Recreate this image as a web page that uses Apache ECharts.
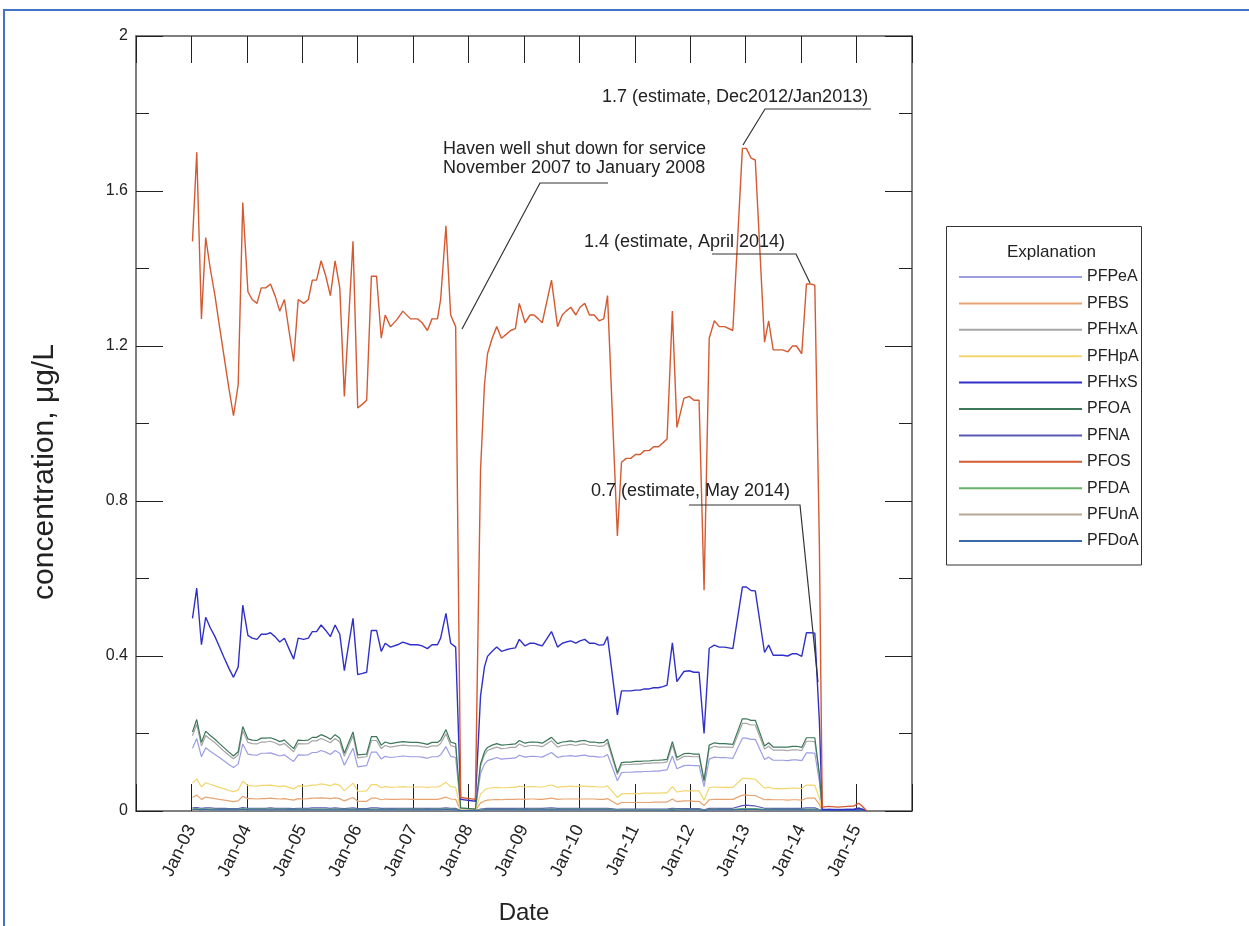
<!DOCTYPE html>
<html>
<head>
<meta charset="utf-8">
<script src="https://cdn.jsdelivr.net/npm/echarts@6/dist/echarts.min.js"></script>
<style>
html,body{margin:0;padding:0;background:#fff;overflow:hidden;}
#chart{width:1249px;height:926px;}
</style>
</head>
<body>
<div id="chart"></div>
<script>
// ---- sample dates ----
const dates = [
'2003-01-08','2003-02-05','2003-03-08','2003-04-05','2003-05-05','2003-06-05','2003-07-05','2003-08-05','2003-09-05','2003-10-05',
'2003-11-05','2003-12-05','2004-01-08','2004-02-05','2004-03-08','2004-04-05','2004-05-05','2004-06-05','2004-07-05','2004-08-05',
'2004-09-05','2004-10-05','2004-11-05','2004-12-05','2005-01-10','2005-02-10','2005-03-08','2005-04-05','2005-05-05','2005-06-05',
'2005-07-05','2005-08-05','2005-09-05','2005-10-05','2005-12-01','2006-01-01','2006-02-01','2006-03-01','2006-04-01','2006-05-05',
'2006-06-05','2006-07-01','2006-08-05','2006-09-20','2006-10-25','2006-12-15','2007-01-30','2007-03-01','2007-04-05','2007-05-05',
'2007-06-10','2007-07-01','2007-08-05','2007-09-05','2007-10-08','2007-11-10','2008-02-15','2008-03-20','2008-04-15','2008-05-05',
'2008-06-05','2008-07-05','2008-08-05','2008-09-05','2008-10-05','2008-11-05','2008-12-01','2009-01-08','2009-02-10','2009-03-08',
'2009-04-05','2009-05-01','2009-07-01','2009-08-10','2009-09-10','2009-10-05','2009-11-05','2009-12-08','2010-01-05','2010-02-05',
'2010-03-08','2010-04-08','2010-05-10','2010-06-10','2010-07-05','2010-09-08','2010-10-05','2010-11-05','2010-12-05','2011-01-05',
'2011-02-05','2011-03-05','2011-04-05','2011-05-05','2011-06-05','2011-07-05','2011-08-01','2011-09-05','2011-10-05','2011-11-20',
'2011-12-25','2012-01-25','2012-02-28','2012-04-01','2012-05-05','2012-06-08','2012-07-10','2012-08-15','2012-10-08','2012-12-10',
'2013-01-05','2013-02-05','2013-03-05','2013-05-05','2013-06-01','2013-07-01','2013-08-01','2013-09-01','2013-10-05','2013-11-05',
'2013-12-01','2014-01-05','2014-02-05','2014-03-05','2014-04-01','2014-05-01','2014-05-20','2014-07-01','2014-09-01','2014-11-01',
'2014-12-15','2015-01-15','2015-02-01','2015-03-10'
];

// ---- concentrations, ug/L ----
const PFPeA = [
0.162,0.187,0.140,0.163,0.154,0.146,0.138,0.129,0.120,0.112,
0.121,0.173,0.147,0.145,0.144,0.149,0.149,0.150,0.146,0.142,
0.145,0.136,0.128,0.145,0.144,0.145,0.151,0.151,0.156,0.152,
0.146,0.156,0.149,0.118,0.162,0.114,0.116,0.117,0.152,0.152,
0.134,0.141,0.138,0.140,0.142,0.140,0.140,0.139,0.136,0.140,
0.140,0.145,0.166,0.141,0.138,0.006,0.004,0.097,0.121,0.130,
0.134,0.138,0.134,0.135,0.136,0.137,0.144,0.139,0.141,0.141,
0.140,0.139,0.151,0.138,0.141,0.142,0.143,0.141,0.143,0.144,
0.141,0.141,0.139,0.140,0.146,0.078,0.099,0.100,0.100,0.101,
0.101,0.102,0.102,0.103,0.103,0.105,0.106,0.142,0.109,0.117,
0.118,0.117,0.117,0.063,0.134,0.139,0.138,0.138,0.136,0.188,
0.188,0.185,0.185,0.133,0.139,0.131,0.131,0.131,0.130,0.132,
0.132,0.130,0.150,0.150,0.149,0.076,0.002,0.002,0.002,0.002,
0.003,0.004,0.003,0
];
const PFBS = [
0.035,0.041,0.030,0.036,0.034,0.032,0.030,0.028,0.026,0.024,
0.026,0.038,0.032,0.032,0.031,0.032,0.032,0.033,0.032,0.031,
0.032,0.030,0.028,0.032,0.031,0.032,0.033,0.033,0.034,0.033,
0.032,0.034,0.032,0.026,0.035,0.025,0.025,0.025,0.033,0.033,
0.029,0.031,0.030,0.030,0.031,0.030,0.030,0.030,0.030,0.030,
0.030,0.032,0.036,0.031,0.030,0.002,0.001,0.021,0.026,0.028,
0.029,0.030,0.029,0.030,0.030,0.030,0.031,0.030,0.031,0.031,
0.030,0.030,0.033,0.030,0.031,0.031,0.031,0.031,0.031,0.031,
0.031,0.031,0.030,0.030,0.032,0.017,0.022,0.022,0.022,0.022,
0.022,0.022,0.022,0.023,0.023,0.023,0.023,0.031,0.024,0.026,
0.026,0.025,0.025,0.014,0.029,0.030,0.030,0.030,0.030,0.041,
0.041,0.040,0.040,0.029,0.030,0.029,0.029,0.029,0.028,0.029,
0.029,0.028,0.033,0.033,0.033,0.017,0.001,0.002,0.002,0.002,
0.002,0.004,0.003,0
];
const PFHxA = [
0.194,0.224,0.168,0.195,0.185,0.176,0.165,0.154,0.144,0.135,
0.145,0.207,0.177,0.174,0.173,0.178,0.178,0.180,0.176,0.170,
0.174,0.164,0.153,0.174,0.173,0.174,0.181,0.181,0.187,0.182,
0.176,0.187,0.178,0.141,0.194,0.137,0.139,0.140,0.182,0.182,
0.161,0.169,0.165,0.168,0.170,0.168,0.168,0.166,0.164,0.168,
0.168,0.174,0.199,0.169,0.165,0.007,0.004,0.116,0.145,0.156,
0.161,0.165,0.161,0.162,0.164,0.164,0.173,0.166,0.169,0.169,
0.168,0.166,0.181,0.165,0.169,0.170,0.172,0.169,0.172,0.173,
0.169,0.169,0.167,0.168,0.176,0.094,0.119,0.120,0.120,0.121,
0.121,0.123,0.123,0.124,0.124,0.125,0.127,0.170,0.131,0.141,
0.141,0.140,0.140,0.075,0.161,0.167,0.165,0.165,0.164,0.226,
0.226,0.222,0.222,0.160,0.167,0.157,0.157,0.157,0.156,0.158,
0.158,0.156,0.180,0.180,0.179,0.091,0.002,0.002,0.002,0.002,
0.002,0.003,0.002,0
];
const PFHpA = [
0.072,0.083,0.062,0.073,0.069,0.065,0.061,0.057,0.053,0.050,
0.054,0.077,0.066,0.065,0.064,0.066,0.066,0.067,0.065,0.063,
0.065,0.061,0.057,0.065,0.064,0.065,0.067,0.067,0.070,0.068,
0.065,0.070,0.066,0.052,0.072,0.051,0.051,0.052,0.068,0.068,
0.060,0.063,0.061,0.062,0.063,0.062,0.062,0.062,0.061,0.062,
0.062,0.065,0.074,0.063,0.061,0.003,0.002,0.043,0.054,0.058,
0.060,0.061,0.060,0.060,0.061,0.061,0.064,0.062,0.063,0.063,
0.062,0.062,0.067,0.061,0.063,0.063,0.064,0.063,0.064,0.064,
0.063,0.063,0.062,0.062,0.065,0.035,0.044,0.045,0.045,0.045,
0.045,0.046,0.046,0.046,0.046,0.047,0.047,0.063,0.049,0.052,
0.052,0.052,0.052,0.028,0.060,0.062,0.061,0.061,0.061,0.084,
0.084,0.083,0.082,0.059,0.062,0.058,0.058,0.058,0.058,0.059,
0.059,0.058,0.067,0.067,0.066,0.034,0.001,0.001,0.001,0.001,
0.001,0.002,0.001,0
];
const PFHxS = [
0.497,0.575,0.429,0.500,0.473,0.450,0.423,0.395,0.368,0.345,
0.372,0.531,0.453,0.446,0.443,0.456,0.456,0.460,0.450,0.436,
0.446,0.419,0.392,0.446,0.443,0.446,0.463,0.463,0.480,0.466,
0.450,0.480,0.456,0.362,0.497,0.352,0.355,0.358,0.466,0.466,
0.412,0.433,0.423,0.429,0.436,0.429,0.429,0.426,0.419,0.429,
0.429,0.446,0.510,0.433,0.423,0.030,0.025,0.297,0.372,0.399,
0.412,0.423,0.412,0.416,0.419,0.421,0.443,0.426,0.433,0.433,
0.429,0.426,0.463,0.423,0.433,0.436,0.439,0.433,0.439,0.443,
0.433,0.433,0.428,0.429,0.450,0.248,0.310,0.310,0.310,0.312,
0.312,0.315,0.315,0.318,0.318,0.321,0.325,0.434,0.334,0.360,
0.362,0.358,0.358,0.200,0.420,0.428,0.423,0.423,0.419,0.578,
0.578,0.569,0.568,0.409,0.428,0.402,0.402,0.402,0.400,0.406,
0.406,0.399,0.460,0.460,0.459,0.233,0.004,0.004,0.003,0.004,
0.004,0.006,0.005,0
];
const PFOA = [
0.204,0.236,0.177,0.206,0.195,0.185,0.174,0.163,0.152,0.142,
0.153,0.218,0.186,0.183,0.182,0.188,0.188,0.189,0.185,0.179,
0.183,0.172,0.161,0.183,0.182,0.183,0.190,0.190,0.197,0.192,
0.185,0.197,0.188,0.149,0.204,0.145,0.146,0.147,0.192,0.192,
0.170,0.178,0.174,0.177,0.179,0.177,0.177,0.175,0.172,0.177,
0.177,0.183,0.210,0.178,0.174,0.008,0.005,0.122,0.153,0.164,
0.170,0.174,0.170,0.171,0.172,0.173,0.182,0.175,0.178,0.178,
0.177,0.175,0.190,0.174,0.178,0.179,0.181,0.178,0.181,0.182,
0.178,0.178,0.176,0.177,0.185,0.099,0.125,0.126,0.126,0.128,
0.128,0.129,0.129,0.131,0.131,0.132,0.133,0.179,0.138,0.148,
0.149,0.147,0.147,0.079,0.170,0.176,0.174,0.174,0.172,0.238,
0.238,0.234,0.234,0.168,0.176,0.165,0.165,0.165,0.165,0.167,
0.167,0.164,0.189,0.189,0.189,0.096,0.002,0.002,0.002,0.002,
0.002,0.003,0.002,0
];
const PFNA = [
0.008,0.009,0.007,0.008,0.008,0.007,0.007,0.007,0.006,0.006,
0.006,0.009,0.007,0.007,0.007,0.007,0.007,0.008,0.007,0.007,
0.007,0.007,0.006,0.007,0.007,0.007,0.008,0.008,0.008,0.008,
0.007,0.008,0.007,0.006,0.008,0.006,0.006,0.006,0.008,0.008,
0.007,0.007,0.007,0.007,0.007,0.007,0.007,0.007,0.007,0.007,
0.007,0.007,0.008,0.007,0.007,0.001,0.001,0.005,0.006,0.007,
0.007,0.007,0.007,0.007,0.007,0.007,0.007,0.007,0.007,0.007,
0.007,0.007,0.008,0.007,0.007,0.007,0.007,0.007,0.007,0.007,
0.007,0.007,0.007,0.007,0.007,0.004,0.005,0.005,0.005,0.005,
0.005,0.005,0.005,0.005,0.005,0.005,0.005,0.007,0.006,0.006,
0.006,0.006,0.006,0.003,0.007,0.007,0.007,0.007,0.007,0.014,
0.015,0.014,0.013,0.007,0.007,0.007,0.007,0.007,0.007,0.007,
0.007,0.007,0.008,0.008,0.008,0.004,0.001,0.004,0.004,0.004,
0.005,0.008,0.006,0
];
const PFOS = [
1.47,1.70,1.27,1.48,1.40,1.33,1.25,1.17,1.09,1.02,
1.10,1.57,1.34,1.32,1.31,1.35,1.35,1.36,1.33,1.29,
1.32,1.24,1.16,1.32,1.31,1.32,1.37,1.37,1.42,1.38,
1.33,1.42,1.35,1.07,1.47,1.04,1.05,1.06,1.38,1.38,
1.22,1.28,1.25,1.27,1.29,1.27,1.27,1.26,1.24,1.27,
1.27,1.32,1.51,1.28,1.25,0.035,0.03,0.88,1.10,1.18,
1.22,1.25,1.22,1.23,1.24,1.245,1.31,1.26,1.28,1.28,
1.27,1.26,1.37,1.25,1.28,1.29,1.30,1.28,1.30,1.31,
1.28,1.28,1.265,1.27,1.33,0.71,0.90,0.91,0.91,0.92,
0.92,0.93,0.93,0.94,0.94,0.95,0.96,1.29,0.99,1.065,
1.07,1.06,1.06,0.57,1.22,1.265,1.25,1.25,1.24,1.71,
1.71,1.685,1.68,1.21,1.265,1.19,1.19,1.19,1.185,1.20,
1.20,1.18,1.36,1.36,1.357,0.69,0.01,0.012,0.010,0.012,
0.013,0.020,0.015,0
];
const PFDA = [
0.005,0.006,0.005,0.005,0.005,0.005,0.004,0.004,0.004,0.004,
0.004,0.006,0.005,0.005,0.005,0.005,0.005,0.005,0.005,0.005,
0.005,0.004,0.004,0.005,0.005,0.005,0.005,0.005,0.005,0.005,
0.005,0.005,0.005,0.004,0.005,0.004,0.004,0.004,0.005,0.005,
0.004,0.005,0.004,0.005,0.005,0.005,0.005,0.005,0.004,0.005,
0.005,0.005,0.005,0.005,0.004,0.001,0.001,0.003,0.004,0.004,
0.004,0.004,0.004,0.004,0.004,0.004,0.005,0.004,0.005,0.005,
0.005,0.004,0.005,0.004,0.005,0.005,0.005,0.005,0.005,0.005,
0.005,0.005,0.005,0.005,0.005,0.003,0.003,0.003,0.003,0.003,
0.003,0.003,0.003,0.003,0.003,0.003,0.003,0.005,0.004,0.004,
0.004,0.004,0.004,0.002,0.004,0.005,0.004,0.004,0.004,0.006,
0.006,0.006,0.006,0.004,0.005,0.004,0.004,0.004,0.004,0.004,
0.004,0.004,0.005,0.005,0.005,0.003,0.001,0.002,0.002,0.002,
0.002,0.003,0.002,0
];
const PFUnA = [
0.002,0.003,0.002,0.002,0.002,0.002,0.002,0.002,0.002,0.002,
0.002,0.003,0.002,0.002,0.002,0.002,0.002,0.002,0.002,0.002,
0.002,0.002,0.002,0.002,0.002,0.002,0.002,0.002,0.002,0.002,
0.002,0.002,0.002,0.002,0.002,0.002,0.002,0.002,0.002,0.002,
0.002,0.002,0.002,0.002,0.002,0.002,0.002,0.002,0.002,0.002,
0.002,0.002,0.003,0.002,0.002,0.001,0.001,0.002,0.002,0.002,
0.002,0.002,0.002,0.002,0.002,0.002,0.002,0.002,0.002,0.002,
0.002,0.002,0.002,0.002,0.002,0.002,0.002,0.002,0.002,0.002,
0.002,0.002,0.002,0.002,0.002,0.001,0.001,0.001,0.001,0.001,
0.001,0.001,0.001,0.001,0.001,0.001,0.001,0.002,0.002,0.002,
0.002,0.002,0.002,0.001,0.002,0.002,0.002,0.002,0.002,0.003,
0.003,0.003,0.003,0.002,0.002,0.002,0.002,0.002,0.002,0.002,
0.002,0.002,0.002,0.002,0.002,0.001,0.000,0.001,0.001,0.001,
0.001,0.002,0.001,0
];
const PFDoA = [
0.004,0.004,0.003,0.004,0.003,0.003,0.003,0.003,0.003,0.003,
0.003,0.004,0.003,0.003,0.003,0.003,0.003,0.003,0.003,0.003,
0.003,0.003,0.003,0.003,0.003,0.003,0.003,0.003,0.003,0.003,
0.003,0.003,0.003,0.003,0.003,0.003,0.003,0.003,0.003,0.003,
0.003,0.003,0.003,0.003,0.003,0.003,0.003,0.003,0.003,0.003,
0.003,0.003,0.004,0.003,0.003,0.001,0.001,0.002,0.003,0.003,
0.003,0.003,0.003,0.003,0.003,0.003,0.003,0.003,0.003,0.003,
0.003,0.003,0.003,0.003,0.003,0.003,0.003,0.003,0.003,0.003,
0.003,0.003,0.003,0.003,0.003,0.002,0.002,0.002,0.002,0.002,
0.002,0.002,0.002,0.002,0.002,0.002,0.002,0.003,0.002,0.003,
0.003,0.003,0.003,0.001,0.003,0.003,0.003,0.003,0.003,0.004,
0.004,0.004,0.004,0.003,0.003,0.003,0.003,0.003,0.003,0.003,
0.003,0.003,0.003,0.003,0.003,0.002,0.001,0.001,0.001,0.001,
0.001,0.002,0.001,0
];

const seriesNames = ['PFPeA','PFBS','PFHxA','PFHpA','PFHxS','PFOA','PFNA','PFOS','PFDA','PFUnA','PFDoA'];
const seriesValues = [PFPeA,PFBS,PFHxA,PFHpA,PFHxS,PFOA,PFNA,PFOS,PFDA,PFUnA,PFDoA];
const seriesColors = ['#9c9ee2','#e6a472','#a6a6a6','#f2d66e','#3030c8','#3b7758','#5858b4','#d45a32','#69b069','#b8a896','#3a6aaa'];
const yTicks = [0,0.4,0.8,1.2,1.6,2];
const yearLabels = ['Jan-03','Jan-04','Jan-05','Jan-06','Jan-07','Jan-08','Jan-09','Jan-10','Jan-11','Jan-12','Jan-13','Jan-14','Jan-15'];

function toYear(s){
  const d = Date.parse(s + 'T00:00:00Z');
  const y = parseInt(s.slice(0,4),10);
  const a = Date.UTC(y,0,1), b = Date.UTC(y+1,0,1);
  return y + (d - a) / (b - a);
}
const xs = dates.map(toYear);

const FONT = "'Liberation Sans',Arial,sans-serif";

const chart = echarts.init(document.getElementById('chart'), null, {renderer:'canvas'});

const axisLineStyle = {color:'#555', width:1.5};
const tickStyle = {color:'#222', width:1};

const series = seriesNames.map((n,i)=>({
  name:n, type:'line', xAxisIndex:0, yAxisIndex:0,
  data: xs.map((x,j)=>[x, seriesValues[i][j]]),
  showSymbol:false, symbol:'none',
  lineStyle:{color:seriesColors[i], width: (n==='PFHxS'||n==='PFOS')?1.4:1.2},
  itemStyle:{color:seriesColors[i]},
  z: (n==='PFOS')?5:(n==='PFHxS'?4:3),
  emphasis:{disabled:true}
}));

const leader = (pts)=>({type:'polyline', shape:{points:pts}, style:{stroke:'#333', lineWidth:1.2, fill:null}, z:20});
const label = (txt,x,y)=>({type:'text', x:x, y:y, style:{text:txt, fill:'#222', font:'18px '+FONT, align:'left', verticalAlign:'middle'}, z:20});

const option = {
  animation:false,
  textStyle:{fontFamily:FONT},
  grid:{left:136, top:36, right:337, bottom:115, containLabel:false, outerBoundsMode:'none'},
  xAxis:[{
    type:'value', min:2002, max:2016, interval:1, position:'bottom',
    axisLine:{onZero:false, lineStyle:axisLineStyle},
    axisTick:{inside:true, length:27, lineStyle:tickStyle},
    axisLabel:{rotate:64, fontSize:18, color:'#222', fontFamily:FONT, margin:15,
      formatter:(v)=>{const k=Math.round(v)-2003; return (k>=0 && k<yearLabels.length)?yearLabels[k]:'';}},
    splitLine:{show:false},
    name:'Date', nameLocation:'middle', nameGap:90,
    nameTextStyle:{fontSize:24, color:'#222', fontFamily:FONT}
  },{
    type:'value', min:2002, max:2016, interval:1, position:'top',
    axisLine:{onZero:false, lineStyle:axisLineStyle},
    axisTick:{inside:true, length:27, lineStyle:tickStyle},
    axisLabel:{show:false}, splitLine:{show:false}
  }],
  yAxis:[{
    type:'value', min:0, max:2, interval:0.4, position:'left',
    axisLine:{show:true, onZero:false, lineStyle:axisLineStyle},
    axisTick:{show:true, inside:true, length:27, lineStyle:tickStyle},
    minorTick:{show:true, splitNumber:2, length:13, lineStyle:tickStyle},
    axisLabel:{fontSize:16, color:'#222', fontFamily:FONT, margin:8,
      formatter:(v)=>{const t=yTicks.find(q=>Math.abs(q-v)<1e-6); return t===undefined?'':String(t);}},
    splitLine:{show:false}, minorSplitLine:{show:false}
  },{
    type:'value', min:0, max:2, interval:0.4, position:'right',
    axisLine:{show:true, onZero:false, lineStyle:axisLineStyle},
    axisTick:{show:true, inside:true, length:27, lineStyle:tickStyle},
    minorTick:{show:true, splitNumber:2, length:13, lineStyle:tickStyle},
    axisLabel:{show:false}, splitLine:{show:false}, minorSplitLine:{show:false}
  }],
  legend:{
    orient:'vertical', left:959, top:267, padding:0,
    itemWidth:123, itemHeight:2, itemGap:6.4, icon:'rect',
    selectedMode:false,
    textStyle:{fontSize:16, color:'#222', lineHeight:20, fontFamily:FONT},
    data:seriesNames
  },
  series:series,
  graphic:[
    // page frame
    {type:'polyline', shape:{points:[[4,926],[4,10],[1249,10]]}, style:{stroke:'#4472c4', lineWidth:2, fill:null}, silent:true},
    // legend box
    {type:'rect', shape:{x:946.5, y:226.5, width:195, height:338.5}, style:{stroke:'#333', lineWidth:1, fill:null}, silent:true},
    {type:'text', x:1007, y:252, style:{text:'Explanation', fill:'#222', font:'17px '+FONT, align:'left', verticalAlign:'middle'}},
    // y-axis title
    {type:'text', x:45, y:472, rotation:Math.PI/2, style:{text:'concentration, \u03bcg/L', fill:'#222', font:'30px '+FONT, align:'center', verticalAlign:'middle'}},
    // annotations
    label('Haven well shut down for service', 443, 149),
    label('November 2007 to January 2008', 443, 168),
    leader([[462,329],[540,183],[608,183]]),
    label('1.7 (estimate, Dec2012/Jan2013)', 602, 97),
    leader([[743,145],[765,109],[871,109]]),
    label('1.4 (estimate, April 2014)', 584, 242),
    leader([[712,254],[796,254],[810,283]]),
    label('0.7 (estimate, May 2014)', 591, 491),
    leader([[689,505],[800,505],[818,682]])
  ]
};
chart.setOption(option);
</script>
</body>
</html>
